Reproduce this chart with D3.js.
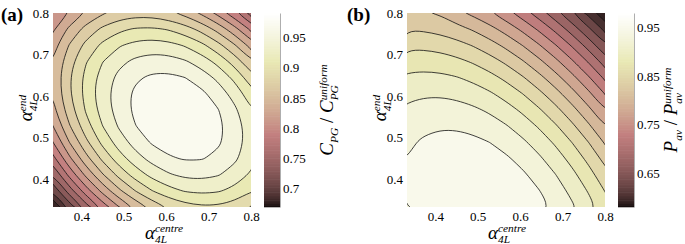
<!DOCTYPE html>
<html>
<head>
<meta charset="utf-8">
<script src="https://cdn.jsdelivr.net/npm/d3@7"></script>
<style>
  body { margin: 0; background: #fff; }
  text { font-family: "Liberation Serif", "Times New Roman", serif; fill: #000; }
</style>
</head>
<body>
<div id="chart"></div>
<script>
// sample positions (alpha_4L) of the grids, same for both axes
const alphaGrid = [0.3333, 0.3722, 0.4111, 0.4500, 0.4889, 0.5278, 0.5667, 0.6056, 0.6444, 0.6833, 0.7222, 0.7611, 0.8000];

// (a) C_PG / C_PG^uniform, rows go from alpha_end = 0.333 (bottom) to 0.8 (top)
const cpgRatio = [
  [0.6708, 0.7185, 0.7609, 0.7980, 0.8296, 0.8559, 0.8769, 0.8923, 0.9025, 0.9073, 0.9067, 0.9008, 0.8894],
  [0.7143, 0.7603, 0.8008, 0.8361, 0.8659, 0.8904, 0.9095, 0.9231, 0.9315, 0.9345, 0.9320, 0.9243, 0.9111],
  [0.7519, 0.7961, 0.8348, 0.8682, 0.8963, 0.9189, 0.9362, 0.9480, 0.9546, 0.9558, 0.9515, 0.9419, 0.9270],
  [0.7837, 0.8261, 0.8630, 0.8946, 0.9208, 0.9416, 0.9571, 0.9671, 0.9719, 0.9713, 0.9652, 0.9538, 0.9370],
  [0.8097, 0.8502, 0.8853, 0.9151, 0.9395, 0.9585, 0.9722, 0.9804, 0.9832, 0.9808, 0.9729, 0.9597, 0.9411],
  [0.8298, 0.8685, 0.9017, 0.9297, 0.9523, 0.9695, 0.9814, 0.9878, 0.9888, 0.9846, 0.9749, 0.9599, 0.9395],
  [0.8439, 0.8808, 0.9122, 0.9384, 0.9592, 0.9745, 0.9846, 0.9892, 0.9884, 0.9824, 0.9709, 0.9540, 0.9318],
  [0.8522, 0.8873, 0.9169, 0.9413, 0.9602, 0.9738, 0.9820, 0.9848, 0.9822, 0.9744, 0.9610, 0.9424, 0.9183],
  [0.8547, 0.8879, 0.9158, 0.9383, 0.9555, 0.9672, 0.9736, 0.9746, 0.9702, 0.9606, 0.9454, 0.9249, 0.8991],
  [0.8512, 0.8826, 0.9087, 0.9294, 0.9447, 0.9546, 0.9593, 0.9584, 0.9522, 0.9407, 0.9238, 0.9015, 0.8738],
  [0.8419, 0.8715, 0.8957, 0.9147, 0.9282, 0.9363, 0.9391, 0.9364, 0.9284, 0.9151, 0.8963, 0.8722, 0.8427],
  [0.8268, 0.8546, 0.8770, 0.8941, 0.9058, 0.9121, 0.9131, 0.9086, 0.8988, 0.8837, 0.8631, 0.8372, 0.8059],
  [0.8115, 0.8317, 0.8523, 0.8676, 0.8775, 0.8819, 0.8811, 0.8748, 0.8632, 0.8463, 0.8239, 0.7961, 0.7630]
];

// (b) P_av / P_av^uniform, same layout
const pavRatio = [
  [0.9492, 0.9614, 0.9705, 0.9763, 0.9791, 0.9787, 0.9750, 0.9682, 0.9582, 0.9451, 0.9287, 0.9092, 0.8867],
  [0.9520, 0.9629, 0.9708, 0.9753, 0.9767, 0.9751, 0.9701, 0.9621, 0.9508, 0.9365, 0.9188, 0.8980, 0.8742],
  [0.9524, 0.9620, 0.9686, 0.9719, 0.9720, 0.9691, 0.9629, 0.9535, 0.9410, 0.9254, 0.9065, 0.8844, 0.8593],
  [0.9503, 0.9587, 0.9640, 0.9660, 0.9649, 0.9607, 0.9532, 0.9426, 0.9288, 0.9119, 0.8917, 0.8684, 0.8420],
  [0.9460, 0.9531, 0.9571, 0.9579, 0.9555, 0.9500, 0.9413, 0.9294, 0.9143, 0.8962, 0.8747, 0.8501, 0.8224],
  [0.9392, 0.9450, 0.9478, 0.9472, 0.9436, 0.9368, 0.9268, 0.9136, 0.8973, 0.8779, 0.8551, 0.8293, 0.8003],
  [0.9300, 0.9346, 0.9361, 0.9343, 0.9294, 0.9214, 0.9100, 0.8956, 0.8780, 0.8573, 0.8333, 0.8062, 0.7760],
  [0.9185, 0.9218, 0.9220, 0.9189, 0.9128, 0.9035, 0.8909, 0.8752, 0.8563, 0.8344, 0.8091, 0.7807, 0.7492],
  [0.9047, 0.9067, 0.9056, 0.9013, 0.8939, 0.8833, 0.8694, 0.8525, 0.8323, 0.8091, 0.7825, 0.7529, 0.7201],
  [0.8883, 0.8891, 0.8868, 0.8811, 0.8724, 0.8606, 0.8455, 0.8272, 0.8058, 0.7813, 0.7535, 0.7226, 0.6885],
  [0.8697, 0.8692, 0.8656, 0.8587, 0.8487, 0.8356, 0.8192, 0.7997, 0.7770, 0.7513, 0.7222, 0.6900, 0.6547],
  [0.8487, 0.8469, 0.8420, 0.8338, 0.8226, 0.8082, 0.7906, 0.7698, 0.7458, 0.7188, 0.6884, 0.6550, 0.6184],
  [0.8290, 0.8270, 0.8220, 0.8066, 0.7941, 0.7784, 0.7595, 0.7374, 0.7122, 0.6839, 0.6523, 0.6175, 0.5797]
];

// contour levels
const cpgLevels = [0.69, 0.71, 0.73, 0.75, 0.77, 0.79, 0.81, 0.83, 0.85, 0.87, 0.89, 0.91, 0.93, 0.95, 0.97];
const pavLevels = [0.60, 0.625, 0.65, 0.675, 0.70, 0.725, 0.75, 0.775, 0.80, 0.825, 0.85, 0.875, 0.90, 0.925, 0.95];

// colour limits of the colorbars
const cpgRange = [0.67, 0.99];
const pavRange = [0.58, 0.98];

// tick labels
const axisTicks = [0.4, 0.5, 0.6, 0.7, 0.8];
const cpgTicks = [0.7, 0.75, 0.8, 0.85, 0.9, 0.95];
const pavTicks = [0.65, 0.75, 0.85, 0.95];

// matlab "pink" colormap
function pink(t) {
  t = Math.max(0, Math.min(1, t));
  const hot = [
    Math.min(1, t / 0.375),
    Math.max(0, Math.min(1, (t - 0.375) / 0.375)),
    Math.max(0, (t - 0.75) / 0.25)
  ];
  const c = hot.map(h => Math.round(255 * Math.sqrt((2 * t + h) / 3)));
  return `rgb(${c[0]},${c[1]},${c[2]})`;
}

// write a label with sub/superscripts, a sup right after a sub is stacked on it
function mathLabel(parent, parts, size) {
  const g = parent.append("g");
  let x = 0, stackStart = null, stackWidth = 0;
  parts.forEach((p, i) => {
    const small = p.type !== "base";
    const dy = p.type === "sub" ? size * 0.24 : p.type === "sup" ? -size * 0.34 : 0;
    let px = x;
    if (p.type === "sup" && i > 0 && parts[i - 1].type === "sub") px = stackStart;
    const t = g.append("text")
      .attr("x", px)
      .attr("y", dy)
      .attr("font-size", small ? size * 0.6 : size)
      .attr("font-style", p.upright ? "normal" : "italic")
      .attr("xml:space", "preserve")
      .text(p.text);
    const w = t.node().getComputedTextLength();
    if (p.type === "sub") { stackStart = px; stackWidth = w; x = px + w; }
    else if (p.type === "sup" && px === stackStart) { x = px + Math.max(w, stackWidth); }
    else x = px + w;
  });
  return { g, width: x };
}

function draw() {
  const width = 685, height = 244;
  const top = 13, bottom = 207, plotW = 198, barW = 16;

  const svg = d3.select("#chart")
    .append("svg")
    .attr("width", width)
    .attr("height", height)
    .attr("viewBox", [0, 0, width, height]);

  const panels = [
    {
      key: "a", left: 53, values: cpgRatio, levels: cpgLevels, range: cpgRange, ticks: cpgTicks,
      barLeft: 264, xTitleX: 145, yTitleX: 32, barTitleX: 333, letterX: 1,
      barTitle: [
        {text: "C", type: "base"}, {text: "PG", type: "sub"},
        {text: " / ", type: "base", upright: true},
        {text: "C", type: "base"}, {text: "PG", type: "sub"}, {text: "uniform", type: "sup"}
      ]
    },
    {
      key: "b", left: 407, values: pavRatio, levels: pavLevels, range: pavRange, ticks: pavTicks,
      barLeft: 618, xTitleX: 488, yTitleX: 386, barTitleX: 677, letterX: 347,
      barTitle: [
        {text: "P", type: "base"}, {text: "av", type: "sub"},
        {text: " / ", type: "base", upright: true},
        {text: "P", type: "base"}, {text: "av", type: "sub"}, {text: "uniform", type: "sup"}
      ]
    }
  ];

  const n = alphaGrid.length;
  // grid index (cell centre at i + 0.5) -> alpha
  const gridScale = d3.scaleLinear().domain([0.5, n - 0.5]).range([alphaGrid[0], alphaGrid[n - 1]]);

  panels.forEach(p => {
    const xScale = d3.scaleLinear().domain([alphaGrid[0], alphaGrid[n - 1]]).range([p.left, p.left + plotW]);
    const yScale = d3.scaleLinear().domain([alphaGrid[0], alphaGrid[n - 1]]).range([bottom, top]);
    const colorScale = v => pink((v - p.range[0]) / (p.range[1] - p.range[0]));

    svg.append("clipPath").attr("id", `clip-${p.key}`)
      .append("rect")
      .attr("x", p.left).attr("y", top)
      .attr("width", plotW).attr("height", bottom - top);

    const plot = svg.append("g").attr("clip-path", `url(#clip-${p.key})`);

    // lowest band, below the first level
    plot.append("rect")
      .attr("x", p.left).attr("y", top)
      .attr("width", plotW).attr("height", bottom - top)
      .attr("fill", colorScale((p.range[0] + p.levels[0]) / 2));

    const contours = d3.contours()
      .size([n, n])
      .thresholds(p.levels)(p.values.flat());

    const ringLine = d3.line()
      .x(d => xScale(gridScale(d[0])))
      .y(d => yScale(gridScale(d[1])))
      .curve(d3.curveBasisClosed);

    const pathOf = c => c.coordinates
      .map(poly => poly.map(ring => ringLine(ring.slice(0, -1))).join(""))
      .join("");

    // filled bands, each coloured by its lower level
    plot.append("g")
      .selectAll("path")
      .data(contours)
      .join("path")
      .attr("d", pathOf)
      .attr("fill", d => colorScale(d.value))
      .attr("stroke", "#111")
      .attr("stroke-width", 0.8);

    // x axis
    const xAxis = d3.axisBottom(xScale).tickValues(axisTicks).tickSize(0).tickPadding(5).tickFormat(d => d);
    svg.append("g")
      .attr("transform", `translate(0, ${bottom})`)
      .call(xAxis)
      .call(g => g.select(".domain").remove())
      .selectAll("text")
      .attr("font-size", 13)
      .attr("font-family", "Liberation Serif");

    // y axis
    const yAxis = d3.axisLeft(yScale).tickValues(axisTicks).tickSize(0).tickPadding(4).tickFormat(d => d);
    svg.append("g")
      .attr("transform", `translate(${p.left}, 0)`)
      .call(yAxis)
      .call(g => g.select(".domain").remove())
      .selectAll("text")
      .attr("font-size", 13)
      .attr("font-family", "Liberation Serif");

    // axis titles
    mathLabel(svg.append("g").attr("transform", `translate(${p.xTitleX}, 238.5)`),
      [{text: "α", type: "base"}, {text: "4L", type: "sub"}, {text: "centre", type: "sup"}], 19);
    const yt = mathLabel(svg.append("g"),
      [{text: "α", type: "base"}, {text: "4L", type: "sub"}, {text: "end", type: "sup"}], 19);
    yt.g.attr("transform", `translate(${p.yTitleX}, ${108 + yt.width / 2}) rotate(-90)`);

    // colorbar
    const barScale = d3.scaleLinear().domain(p.range).range([bottom, top]);
    const steps = d3.range(120).map(i => p.range[0] + (i + 0.5) * (p.range[1] - p.range[0]) / 120);
    const stepH = (bottom - top) / 120;
    svg.append("g")
      .selectAll("rect")
      .data(steps)
      .join("rect")
      .attr("x", p.barLeft)
      .attr("y", d => barScale(d) - stepH / 2 - 0.3)
      .attr("width", barW)
      .attr("height", stepH + 0.6)
      .attr("fill", d => colorScale(d));

    const barAxis = d3.axisRight(barScale).tickValues(p.ticks).tickSize(0).tickSizeOuter(0).tickPadding(3).tickFormat(d => d);
    svg.append("g")
      .attr("transform", `translate(${p.barLeft + barW}, 0)`)
      .call(barAxis)
      .call(g => g.select(".domain").attr("stroke", "#999").attr("stroke-width", 0.8))
      .selectAll("text")
      .attr("font-size", 13)
      .attr("font-family", "Liberation Serif");

    const bt = mathLabel(svg.append("g"), p.barTitle, 19);
    bt.g.attr("transform", `translate(${p.barTitleX}, ${110 + bt.width / 2}) rotate(-90)`);

    // panel letter
    svg.append("text")
      .attr("x", p.letterX)
      .attr("y", 21)
      .attr("font-size", 19)
      .attr("font-weight", "bold")
      .text(`(${p.key})`);
  });
}

draw();
</script>
</body>
</html>
